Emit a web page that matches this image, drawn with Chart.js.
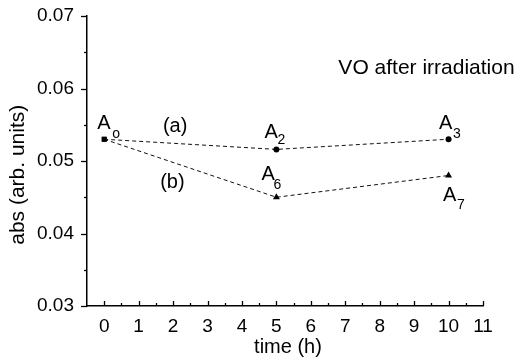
<!DOCTYPE html>
<html>
<head>
<meta charset="utf-8">
<script src="https://cdn.jsdelivr.net/npm/chart.js@4/dist/chart.umd.min.js"></script>
<style>
html,body{margin:0;padding:0;background:#fff;}
#wrap{width:515px;height:361px;position:relative;}
</style>
</head>
<body>
<div id="wrap"><canvas id="c" width="515" height="361"></canvas></div>
<script>
// ---- data ----
const timeH = [0, 5, 10];
const seriesA = [0.053, 0.0516, 0.053];   // (a)
const seriesB = [0.053, 0.045, 0.048];    // (b)
const xTicks = [0,1,2,3,4,5,6,7,8,9,10,11];
const yTicks = [0.03,0.04,0.05,0.06,0.07];
const pointLabels = [
  {series:'a', idx:0, sub:'o'},
  {series:'a', idx:1, sub:'2'},
  {series:'a', idx:2, sub:'3'},
  {series:'b', idx:1, sub:'6'},
  {series:'b', idx:2, sub:'7'}
];

const FONT = '"Liberation Sans", Arial, Helvetica, sans-serif';

// label offsets relative to point pixel (dx,dy for "A" baseline-left; sdx,sdy for subscript)
const labelOffsets = {
  'o': [-7,-10, 8,-1],
  '2': [-12,-11, 1,-5],
  '3': [-9.5,-10, 4.5,-1],
  '6': [-15,-17, -3,-8],
  '7': [-5.5,25, 8.5,33]
};

const decor = {
  id:'decor',
  afterDraw(chart){
    const ctx = chart.ctx, xs = chart.scales.x, ys = chart.scales.y;
    const ax = xs.left, ay = ys.bottom;
    ctx.save();
    ctx.strokeStyle = '#000';
    ctx.lineWidth = 1.3;
    // y ticks (outward)
    for (let v = 0.03; v <= 0.07001; v += 0.005) {
      const p = Math.round(ys.getPixelForValue(v)) + 0.5;
      const major = Math.abs(Math.round(v*100) - v*100) < 1e-6;
      ctx.beginPath();
      ctx.moveTo(ax - (major ? 6 : 3), p);
      ctx.lineTo(ax, p);
      ctx.stroke();
    }
    // x ticks (inward)
    for (let v = 0; v <= 11.0001; v += 0.5) {
      const p = Math.round(xs.getPixelForValue(v)) + 0.5;
      const major = Math.abs(v - Math.round(v)) < 1e-6;
      ctx.beginPath();
      ctx.moveTo(p, ay);
      ctx.lineTo(p, ay - (major ? 5 : 3));
      ctx.stroke();
    }
    ctx.fillStyle = '#000';
    // axis titles
    ctx.font = '20px ' + FONT;
    ctx.textAlign = 'center';
    ctx.textBaseline = 'middle';
    ctx.fillText('time (h)', (xs.left + xs.right)/2 + 3, 347);
    ctx.save();
    ctx.translate(18, ys.getPixelForValue(0.0481));
    ctx.rotate(-Math.PI/2);
    ctx.font = '21px ' + FONT;
    ctx.fillText('abs (arb. units)', 0, 0);
    ctx.restore();

    // series labels
    ctx.font = '20px ' + FONT;
    ctx.fillText('(a)', xs.getPixelForValue(2.06), ys.getPixelForValue(0.0547));
    ctx.fillText('(b)', xs.getPixelForValue(1.98), ys.getPixelForValue(0.0471));

    // title text
    ctx.textAlign = 'left';
    ctx.textBaseline = 'alphabetic';
    ctx.font = '21px ' + FONT;
    ctx.fillText('VO after irradiation', xs.getPixelForValue(6.8), ys.getPixelForValue(0.0620));

    // point labels
    pointLabels.forEach(l => {
      const data = l.series === 'a' ? seriesA : seriesB;
      const px = xs.getPixelForValue(timeH[l.idx]);
      const py = ys.getPixelForValue(data[l.idx]);
      const o = labelOffsets[l.sub];
      ctx.font = '20px ' + FONT;
      ctx.fillText('A', px + o[0], py + o[1]);
      ctx.font = '14px ' + FONT;
      ctx.fillText(l.sub, px + o[2], py + o[3]);
    });
    ctx.restore();
  }
};

new Chart(document.getElementById('c'), {
  type: 'line',
  data: {
    datasets: [
      {
        label: '(a)',
        data: timeH.map((t,i)=>({x:t, y:seriesA[i]})),
        borderColor: '#111',
        backgroundColor: '#000',
        borderWidth: 1,
        borderDash: [4,3],
        pointStyle: ['rect','circle','circle'],
        pointRadius: [3.5,3,3],
        pointBorderWidth: 0,
        pointBackgroundColor: '#000',
        tension: 0
      },
      {
        label: '(b)',
        data: timeH.map((t,i)=>({x:t, y:seriesB[i]})),
        borderColor: '#111',
        backgroundColor: '#000',
        borderWidth: 1,
        borderDash: [4,3],
        pointStyle: ['rect','triangle','triangle'],
        pointRadius: [3.5,4,4],
        pointBorderWidth: 0,
        pointBackgroundColor: '#000',
        tension: 0
      }
    ]
  },
  options: {
    responsive: false,
    animation: false,
    events: [],
    layout: { padding: { top: 16, right: 32, left: 0, bottom: 0 } },
    plugins: { legend: { display: false }, tooltip: { enabled: false } },
    scales: {
      x: {
        type: 'linear',
        min: -0.5, max: 11,
        afterBuildTicks: s => { s.ticks = xTicks.map(v => ({value: v})); },
        afterFit: s => { s.height = 55; },
        grid: { display: false },
        border: { display: true, color: '#000', width: 1.5 },
        ticks: { color: '#000', font: { family: FONT, size: 19 }, padding: 1, maxRotation: 0, autoSkip: false }
      },
      y: {
        type: 'linear',
        min: 0.03, max: 0.07,
        afterBuildTicks: s => { s.ticks = yTicks.map(v => ({value: v})); },
        afterFit: s => { s.width = 87; },
        grid: { display: true, drawOnChartArea: false, drawTicks: true, tickLength: 11, color: 'rgba(0,0,0,0)' },
        border: { display: true, color: '#000', width: 1.5 },
        ticks: { color: '#000', font: { family: FONT, size: 19 }, padding: 2,
                 callback: v => v.toFixed(2) }
      }
    }
  },
  plugins: [decor]
});
</script>
</body>
</html>
